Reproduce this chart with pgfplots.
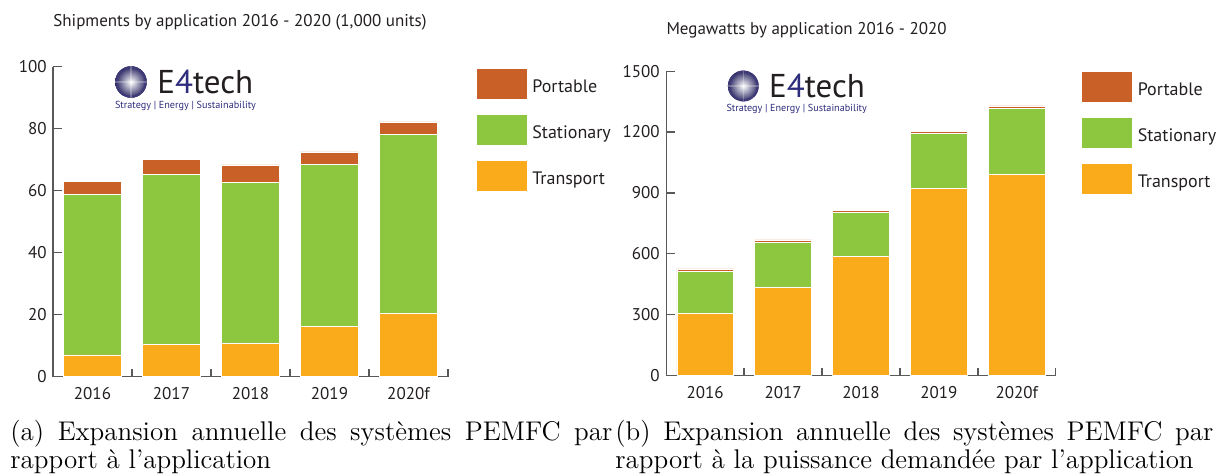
\documentclass[border=0pt]{standalone}
\usepackage{pgfplots}
\pgfplotsset{compat=1.18}
\usepackage{fontspec}
\usepackage{graphicx}
\usetikzlibrary{calc}
\newfontfamily\chartfont{PT Sans}
\definecolor{cport}{RGB}{200,96,40}
\definecolor{cstat}{RGB}{141,198,63}
\definecolor{ctrans}{RGB}{249,171,28}
\definecolor{axgray}{RGB}{88,89,91}
\definecolor{logoblue}{RGB}{46,44,124}
\definecolor{logodark}{RGB}{35,31,32}
\pgfplotsset{
  chartaxis/.style={
    scale only axis,
    anchor=south west,
    axis lines*=left,
    axis line style={axgray, line width=0.6pt, -},
    ybar stacked,
    bar shift=0pt,
    xmin=-0.5, xmax=4.5,
    ymin=0,
    xtick={0,1,2,3,4},
    xticklabels={2016,2017,2018,2019,2020f},
    minor xtick={0.5,1.5,2.5,3.5,4.5},
    major x tick style={draw=none},
    minor x tick style={axgray, line width=0.6pt},
    ytick style={axgray, line width=0.6pt},
    tick align=inside,
    major tick length=4.3pt,
    minor tick length=3.8pt,
    tick label style={font=\chartfont\fontsize{8.5}{10}\selectfont, text=logodark, inner sep=0pt},
    xticklabel style={anchor=north, yshift=-5pt},
    yticklabel style={anchor=east, xshift=-3pt},
    /pgf/number format/assume math mode=true,
    /pgf/number format/set thousands separator={},
    legend style={draw=none, fill=none, inner sep=0pt, row sep=8pt, column sep=2.9pt,
      nodes={inner sep=0pt, font=\chartfont\fontsize{9}{11}\selectfont, text=logodark}},
    legend cell align=left,
    reverse legend,
    legend image code/.code={\fill[##1,draw=none] (0pt,-5.5pt) rectangle (25pt,9.5pt);},
    every axis plot/.append style={draw=white, line width=0.3pt},
  }
}
\newcommand{\logo}[3]{% x, y, radius
  \shade[inner color=white, outer color={rgb,255:red,40;green,36;blue,96}] (#1,#2) circle (#3);
  \draw[color={rgb,255:red,62;green,58;blue,120}, line width=0.14*#3, dash pattern=on 0.9*#3 off 0.12*#3] (#1,#2) circle (0.93*#3);
  \draw[white, opacity=0.25, line width=0.08*#3] ($(#1,#2)+(-#3,0)$) -- ($(#1,#2)+(#3,0)$);
  \draw[white, opacity=0.25, line width=0.08*#3] ($(#1,#2)+(0,-#3)$) -- ($(#1,#2)+(0,#3)$);
}
\begin{document}
\begin{tikzpicture}
\useasboundingbox (0,0) rectangle (611.5pt,-238pt);

% ---------- Left chart ----------
\begin{axis}[chartaxis,
  at={(26.5pt,-188.35pt)},
  width=197.5pt, height=155pt,
  ymax=100, ytick={0,20,40,60,80,100},
  bar width=29pt,
  legend style={at={(rel axis cs:1.0713,0.995)}, anchor=north west},
]
\addplot[fill=ctrans] coordinates {(0,7.0) (1,10.5) (2,10.8) (3,16.2) (4,20.4)};
\addplot[fill=cstat] coordinates {(0,51.8) (1,54.8) (2,51.8) (3,52.2) (4,57.7)};
\addplot[fill=cport] coordinates {(0,4.3) (1,4.9) (2,5.7) (3,4.1) (4,4.1)};
\legend{Transport,Stationary,Portable}
\end{axis}

% ---------- Right chart ----------
\begin{axis}[chartaxis,
  at={(333.05pt,-187.85pt)},
  width=194.9pt, height=152.3pt,
  ymax=1500, ytick={0,300,600,900,1200,1500},
  bar width=28.25pt,
  legend style={at={(rel axis cs:1.066,1.0)}, anchor=north west},
]
\addplot[fill=ctrans] coordinates {(0,307) (1,435) (2,588) (3,921) (4,993)};
\addplot[fill=cstat] coordinates {(0,205) (1,220) (2,215) (3,272) (4,323)};
\addplot[fill=cport] coordinates {(0,14) (1,14) (2,10) (3,11) (4,13)};
\legend{Transport,Stationary,Portable}
\end{axis}

% ---------- Titles ----------
\node[anchor=base west, inner sep=0pt, text=logodark, font=\chartfont\fontsize{8.5}{10}\selectfont]
  at (26.5pt,-13.5pt) {Shipments by application 2016 - 2020 (1,000 units)};
\node[anchor=base west, inner sep=0pt, text=logodark, font=\chartfont\fontsize{8.5}{10}\selectfont]
  at (333.05pt,-17.5pt) {Megawatts by application 2016 - 2020};

% ---------- Logos ----------
\logo{65.5pt}{-41pt}{7.9pt}
\node[anchor=base west, inner sep=0pt, font=\chartfont\fontsize{16.5}{18}\selectfont]
  at (78.5pt,-47pt) {\textcolor{logodark}{E}\textcolor{logoblue}{4}\textcolor{logodark}{tech}};
\node[anchor=center, inner sep=0pt, text=logoblue] at (92.75pt,-53pt)
  {\resizebox{70.5pt}{!}{\chartfont Strategy | Energy | Sustainability}};

\logo{371.65pt}{-43pt}{7.7pt}
\node[anchor=base west, inner sep=0pt, font=\chartfont\fontsize{16.5}{18}\selectfont]
  at (384.4pt,-48.65pt) {\textcolor{logodark}{E}\textcolor{logoblue}{4}\textcolor{logodark}{tech}};
\node[anchor=center, inner sep=0pt, text=logoblue] at (398.35pt,-54.5pt)
  {\resizebox{70.2pt}{!}{\chartfont Strategy | Energy | Sustainability}};

% ---------- Captions ----------
\node[anchor=north west, inner sep=0pt, text width=301pt, align=justify,
  font=\fontsize{13.5}{14}\selectfont] at (5pt,-209.9pt)
  {(a) Expansion annuelle des systèmes PEMFC par\linebreak rapport à l'application};
\node[anchor=north west, inner sep=0pt, text width=299pt, align=justify,
  font=\fontsize{13.5}{14}\selectfont] at (307.5pt,-209.9pt)
  {(b) Expansion annuelle des systèmes PEMFC par\linebreak rapport à la puissance demandée par l'application};
\end{tikzpicture}
\end{document}
